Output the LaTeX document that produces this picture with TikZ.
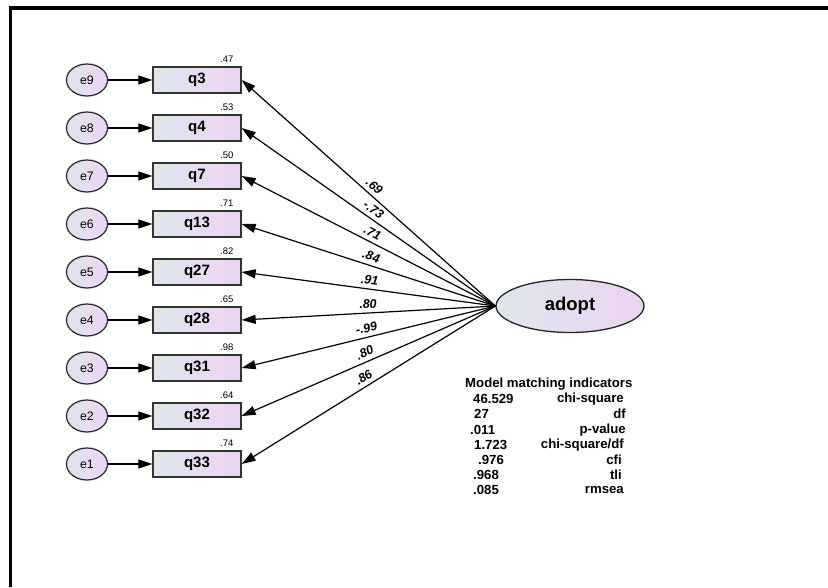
\documentclass[tikz,border=0pt]{standalone}
\usepackage{fontspec}
\setmainfont{Liberation Sans}
\usetikzlibrary{arrows.meta,shapes.geometric}
\definecolor{boxL}{HTML}{DFE6EC}
\definecolor{boxR}{HTML}{EBD4F1}
\begin{document}
\begin{tikzpicture}[x=1pt,y=-1pt,
  obs/.style={draw=black!80, line width=1.3pt, left color=boxL, right color=boxR,
    minimum width=88pt, minimum height=26pt, inner sep=0pt,
    font=\fontsize{15}{16}\selectfont\bfseries},
  err/.style={ellipse, draw=black!85, line width=1.2pt, left color=boxL, right color=boxR,
    minimum width=41pt, minimum height=32pt, inner sep=0pt,
    font=\fontsize{12.3}{13}\selectfont},
  lat/.style={ellipse, draw=black!85, line width=1.3pt, left color=boxL, right color=boxR,
    minimum width=148pt, minimum height=53pt, inner sep=0pt,
    font=\fontsize{18.5}{19}\selectfont\bfseries},
  var/.style={anchor=south east, inner sep=0pt, font=\fontsize{9.5}{10}\selectfont},
  tip/.style={line width=1.2pt, -{Triangle[length=14pt,width=9pt]}},
  rtip/.style={line width=1.2pt, {Triangle[length=14pt,width=9pt]}-},
  lbl/.style={sloped, above, pos=0.5, inner sep=4pt,
    font=\fontsize{12.5}{13}\selectfont\bfseries\itshape},
  tab/.style={inner sep=0pt, font=\fontsize{13.2}{14}\selectfont\bfseries},
]
\useasboundingbox (0,0) rectangle (828,587);
\draw[line width=3.6pt] (10.5,587) -- (10.5,8) -- (828,8);

\node[lat] (adopt) at (570,306) {adopt};
\coordinate (A) at (adopt.west);

\foreach \q/\e/\v/\r [count=\i from 0] in
  {q3/e9/.47/1, q4/e8/.53/2, q7/e7/.50/3, q13/e6/.71/4, q27/e5/.82/5,
   q28/e4/.65/6, q31/e3/.98/7, q32/e2/.64/8, q33/e1/.74/9}{
  \node[obs] (box\r) at (197,80+48*\i) {\q};
  \node[err] (err\r) at (87,80+48*\i) {\e};
  \node[var] (var\r) at ([xshift=-8pt,yshift=4pt]box\r.north east) {\v};
  \draw[tip] (err\r) -- (box\r);
}

\draw[rtip] (box1.east) -- node[lbl]{.69} (A);
\draw[rtip] (box2.east) -- node[lbl]{-.73} (A);
\draw[rtip] (box3.east) -- node[lbl]{.71} (A);
\draw[rtip] (box4.east) -- node[lbl]{.84} (A);
\draw[rtip] (box5.east) -- node[lbl]{.91} (A);
\draw[rtip] (box6.east) -- node[lbl]{.80} (A);
\draw[rtip] (box7.east) -- node[lbl]{-.99} (A);
\draw[rtip] (box8.east) -- node[lbl]{.80} (A);
\draw[rtip] (box9.east) -- node[lbl]{.86} (A);

\node[tab, anchor=west] (title) at (465,384) {Model matching indicators};
\node[tab, anchor=west] (v1) at (473,399) {46.529};
\node[tab, anchor=west] (v2) at (474,414) {27};
\node[tab, anchor=west] (v3) at (470,430) {.011};
\node[tab, anchor=west] (v4) at (474,445) {1.723};
\node[tab, anchor=west] (v5) at (478,460) {.976};
\node[tab, anchor=west] (v6) at (473,475) {.968};
\node[tab, anchor=west] (v7) at (473,490) {.085};
\node[tab, anchor=east] (n1) at (624,399) {chi-square};
\node[tab, anchor=east] (n2) at (626,414) {df};
\node[tab, anchor=east] (n3) at (626,430) {p-value};
\node[tab, anchor=east] (n4) at (624,445) {chi-square/df};
\node[tab, anchor=east] (n5) at (622,460) {cfi};
\node[tab, anchor=east] (n6) at (622,475) {tli};
\node[tab, anchor=east] (n7) at (624,490) {rmsea};
\end{tikzpicture}
\end{document}
